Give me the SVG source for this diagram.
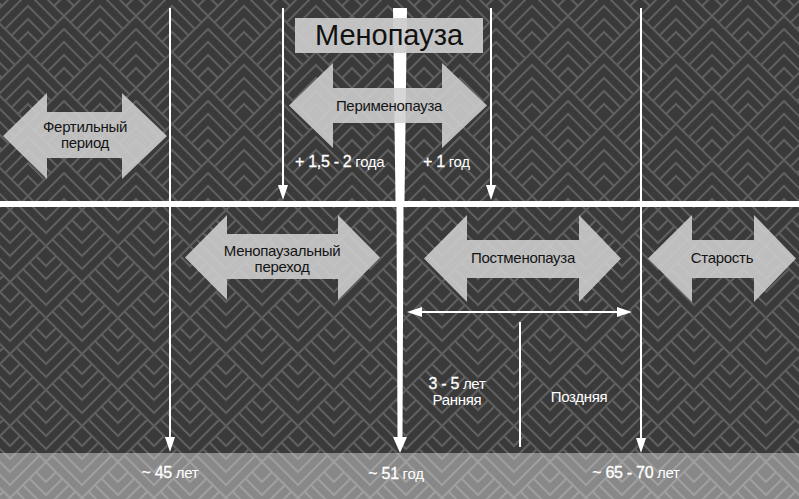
<svg xmlns="http://www.w3.org/2000/svg" xmlns:xlink="http://www.w3.org/1999/xlink" width="799" height="499" viewBox="0 0 799 499">
  <style>
    .blk { fill: #d0d0d0; fill-opacity: 0.88; }
    .lbl { font-family: "Liberation Sans", Arial, sans-serif; font-size: 15px; fill: #141414; letter-spacing: -0.3px; }
    .wt { font-family: "Liberation Sans", Arial, sans-serif; font-size: 15px; fill: #ffffff; letter-spacing: -0.3px; }
    .num { stroke: #ffffff; stroke-width: 0.3; font-size: 16px; }
    .ln { stroke: #ffffff; stroke-width: 2; fill: none; }
    .pl { stroke: #5f5f5f; stroke-width: 2; fill: none; }
  </style>
  <defs>
    <path id="dm" class="pl" d="M-36,36L0,0L36,36M-29.5,42.5L0,13L29.5,42.5M-23,49L0,26L23,49M-16.5,55.5L0,39L16.5,55.5M-10,62L0,52L10,62"/>
    <pattern id="up" width="72" height="72" patternUnits="userSpaceOnUse" x="-8" y="-20">
      <rect width="72" height="72" fill="#3a3a3a"/>
      <use xlink:href="#dm" href="#dm" x="36" y="0"/>
      <use xlink:href="#dm" href="#dm" x="0" y="-36"/>
      <use xlink:href="#dm" href="#dm" x="72" y="-36"/>
      <use xlink:href="#dm" href="#dm" x="0" y="36"/>
      <use xlink:href="#dm" href="#dm" x="72" y="36"/>
    </pattern>
    <pattern id="down" width="72" height="72" patternUnits="userSpaceOnUse" patternTransform="scale(1,-1)" x="10" y="-30">
      <rect width="72" height="72" fill="#3a3a3a"/>
      <use xlink:href="#dm" href="#dm" x="36" y="0"/>
      <use xlink:href="#dm" href="#dm" x="0" y="-36"/>
      <use xlink:href="#dm" href="#dm" x="72" y="-36"/>
      <use xlink:href="#dm" href="#dm" x="0" y="36"/>
      <use xlink:href="#dm" href="#dm" x="72" y="36"/>
    </pattern>
    <marker id="ah" viewBox="0 0 15 10" markerWidth="15" markerHeight="10" refX="7" refY="5" orient="auto-start-reverse" markerUnits="userSpaceOnUse">
      <path d="M0,0L15,5L0,10z" fill="#ffffff"/>
    </marker>
  </defs>

  <!-- background -->
  <rect x="0" y="0" width="799" height="204" fill="url(#up)"/>
  <rect x="0" y="204" width="799" height="295" fill="url(#down)"/>
  <rect x="0" y="453" width="799" height="46" fill="#ffffff" fill-opacity="0.4"/>

  <!-- central pole -->
  <g id="pole">
    <polygon points="393,8 407,8 404.5,201 395.5,201" fill="#ffffff"/>
    <polygon points="396.5,207 403.5,207 402.5,437 397.5,437" fill="#ffffff"/>
    <polygon points="393,437 407,437 400,453" fill="#ffffff"/>
  </g>

  <g id="connectors">
    <rect x="0" y="201" width="799" height="6" fill="#ffffff"/>
    <line class="ln" x1="170" y1="8" x2="170" y2="444" marker-end="url(#ah)"/>
    <line class="ln" x1="641" y1="8" x2="641" y2="445" marker-end="url(#ah)"/>
    <line class="ln" x1="283" y1="8" x2="283" y2="192" marker-end="url(#ah)"/>
    <line class="ln" x1="491" y1="8" x2="491" y2="192" marker-end="url(#ah)"/>
    <line class="ln" x1="415" y1="312" x2="624" y2="312" stroke-width="2.5" marker-start="url(#ah)" marker-end="url(#ah)"/>
    <line class="ln" x1="520" y1="322" x2="520" y2="447" stroke-width="2"/>
  </g>

  <g id="menopause">
    <rect x="295" y="18" width="188" height="35" fill="#cbcbcb" fill-opacity="0.93"/>
    <text x="389" y="45" text-anchor="middle" font-family="Liberation Sans, Arial, sans-serif" font-size="29" fill="#111111">Менопауза</text>
  </g>

  <g id="perimenopause">
    <polygon class="blk" points="289,105.5 333,63 333,88 442,88 442,63 487,105.5 442,148 442,123 333,123 333,148"/>
    <text class="lbl" x="389" y="111" text-anchor="middle">Перименопауза</text>
  </g>

  <g id="fertile">
    <polygon class="blk" points="3,136 47,93 47,112 122,112 122,93 167,136 122,179 122,158 47,158 47,179"/>
    <text class="lbl" x="85" y="132" text-anchor="middle">Фертильный</text>
    <text class="lbl" x="85" y="148" text-anchor="middle">период</text>
  </g>

  <g id="transition">
    <polygon class="blk" points="185,257.5 227,215 227,234 338,234 338,215 380,257.5 338,300 338,279 227,279 227,300"/>
    <text class="lbl" x="282" y="256" text-anchor="middle">Менопаузальный</text>
    <text class="lbl" x="282" y="272" text-anchor="middle">переход</text>
  </g>

  <g id="postmenopause">
    <polygon class="blk" points="424,258.5 467,215 467,240 579,240 579,215 621,258.5 579,302 579,278 467,278 467,302"/>
    <text class="lbl" x="523" y="263" text-anchor="middle">Постменопауза</text>
  </g>

  <g id="old-age">
    <polygon class="blk" points="648,258.5 692,215 692,240 754,240 754,215 796,258.5 754,302 754,278 692,278 692,302"/>
    <text class="lbl" x="722" y="263" text-anchor="middle">Старость</text>
  </g>

  <g id="peri-before">
    <text class="wt" x="295" y="167"><tspan class="num">+ 1,5 - 2</tspan> года</text>
  </g>
  <g id="peri-after">
    <text class="wt" x="423" y="167"><tspan class="num">+ 1</tspan> год</text>
  </g>

  <g id="early">
    <text class="wt" x="457" y="389" text-anchor="middle" font-size="14"><tspan class="num" font-size="15">3 - 5</tspan> лет</text>
    <text class="wt" x="457" y="405" text-anchor="middle" font-size="14">Ранняя</text>
  </g>
  <g id="late">
    <text class="wt" x="579" y="402" text-anchor="middle">Поздняя</text>
  </g>

  <g id="age45">
    <text class="wt" x="170" y="478" text-anchor="middle"><tspan class="num">~ 45</tspan> лет</text>
  </g>
  <g id="age51">
    <text class="wt" x="396" y="479" text-anchor="middle"><tspan class="num">~ 51</tspan> год</text>
  </g>
  <g id="age65">
    <text class="wt" x="636" y="478" text-anchor="middle"><tspan class="num">~ 65 - 70</tspan> лет</text>
  </g>
</svg>
